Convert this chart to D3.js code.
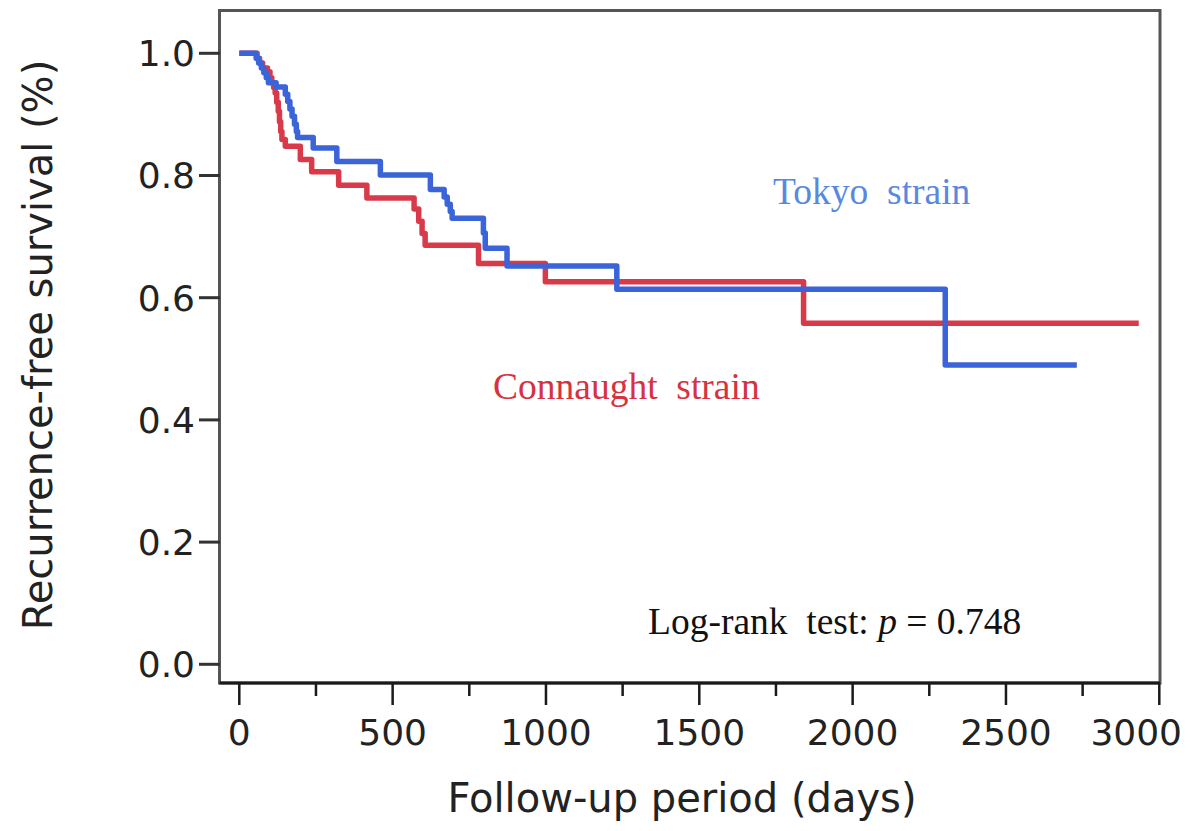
<!doctype html>
<html>
<head>
<meta charset="UTF-8">
<script src="https://d3js.org/d3.v7.min.js"></script>
<style>
  body { margin: 0; background: #fff; }
  .tick-label { font-family: "DejaVu Sans", Verdana, sans-serif; font-size: 36px; fill: #222; }
  .axis-title { font-family: "DejaVu Sans", Verdana, sans-serif; font-size: 40px; fill: #222; }
  .note { font-family: "Liberation Serif", "Times New Roman", serif; }
</style>
</head>
<body>
<svg id="chart" width="1197" height="831"></svg>
<script>
// Tokyo strain (blue) - step times (days) and survival after each step
var tokyoDays = [0, 55, 63, 72, 80, 88, 95, 120, 150, 158, 165, 172, 180, 186, 190, 241, 318, 460, 623, 668, 678, 688, 694, 796, 802, 873, 1231, 2302, 2731];
var tokyoSurv = [1.0, 0.992, 0.984, 0.976, 0.968, 0.96, 0.952, 0.945, 0.933, 0.921, 0.909, 0.897, 0.884, 0.872, 0.862, 0.845, 0.823, 0.801, 0.777, 0.765, 0.753, 0.741, 0.730, 0.706, 0.681, 0.652, 0.614, 0.490, 0.490];

// Connaught strain (red)
var connDays = [0, 58, 66, 76, 92, 100, 106, 112, 117, 122, 127, 131, 135, 139, 150, 199, 236, 324, 416, 570, 585, 596, 606, 780, 998, 1840, 2933];
var connSurv = [1.0, 0.992, 0.984, 0.976, 0.97, 0.96, 0.952, 0.944, 0.935, 0.92, 0.905, 0.888, 0.872, 0.859, 0.848, 0.826, 0.806, 0.784, 0.763, 0.745, 0.725, 0.705, 0.686, 0.656, 0.626, 0.558, 0.558];

var xMajor = [0, 500, 1000, 1500, 2000, 2500, 3000];
var xMinor = [250, 750, 1250, 1750, 2250, 2750];
var yTicks = [0, 0.2, 0.4, 0.6, 0.8, 1.0];

var svg = d3.select("#chart");

var x = d3.scaleLinear().domain([0, 3000]).range([239.3, 1159.3]);
var y = d3.scaleLinear().domain([0, 1]).range([664.3, 53.3]);

// frame
svg.append("rect")
    .attr("x", 219.5).attr("y", 10.5)
    .attr("width", 1160 - 219.5).attr("height", 683 - 10.5)
    .attr("fill", "none")
    .attr("stroke", "#555")
    .attr("stroke-width", 3);

// bottom axis line
svg.append("line")
    .attr("x1", 219.5).attr("x2", 1160)
    .attr("y1", 683).attr("y2", 683)
    .attr("stroke", "#1a1a1a").attr("stroke-width", 3);

// x ticks
svg.selectAll(".xmaj").data(xMajor).enter().append("line")
    .attr("x1", d => x(d)).attr("x2", d => x(d))
    .attr("y1", 683).attr("y2", 705)
    .attr("stroke", "#1a1a1a").attr("stroke-width", 2.5);
svg.selectAll(".xmin").data(xMinor).enter().append("line")
    .attr("x1", d => x(d)).attr("x2", d => x(d))
    .attr("y1", 683).attr("y2", 696)
    .attr("stroke", "#1a1a1a").attr("stroke-width", 2.5);
svg.selectAll(".xlab").data(xMajor).enter().append("text")
    .attr("class", "tick-label")
    .attr("x", d => d === 3000 ? 1182 : x(d)).attr("y", 745)
    .attr("text-anchor", d => d === 3000 ? "end" : "middle")
    .text(d => d);

// y ticks
svg.selectAll(".ytk").data(yTicks).enter().append("line")
    .attr("x1", 199).attr("x2", 220)
    .attr("y1", d => y(d)).attr("y2", d => y(d))
    .attr("stroke", "#333").attr("stroke-width", 3);
svg.selectAll(".ylab").data(yTicks).enter().append("text")
    .attr("class", "tick-label")
    .attr("x", 195).attr("y", d => y(d))
    .attr("dy", "0.36em")
    .attr("text-anchor", "end")
    .text(d => d.toFixed(1));

// axis titles
svg.append("text")
    .attr("class", "axis-title")
    .attr("x", 682).attr("y", 812)
    .attr("text-anchor", "middle")
    .text("Follow-up period (days)");
svg.append("text")
    .attr("class", "axis-title")
    .attr("transform", "translate(52,345) rotate(-90)")
    .attr("text-anchor", "middle")
    .text("Recurrence-free survival (%)");

// curves
var line = d3.line()
    .x(d => x(d[0]))
    .y(d => y(d[1]))
    .curve(d3.curveStepAfter);

svg.append("path")
    .datum(d3.zip(connDays, connSurv))
    .attr("d", line)
    .attr("fill", "none")
    .attr("stroke", "#d83a4a")
    .attr("stroke-width", 5.5)
    .attr("stroke-linejoin", "round");

svg.append("path")
    .datum(d3.zip(tokyoDays, tokyoSurv))
    .attr("d", line)
    .attr("fill", "none")
    .attr("stroke", "#3a64d8")
    .attr("stroke-width", 5.5)
    .attr("stroke-linejoin", "round");

// labels
svg.append("text")
    .attr("class", "note")
    .attr("x", 773).attr("y", 204)
    .attr("font-size", 37.5)
    .attr("fill", "#5a88e0")
    .attr("xml:space", "preserve")
    .text("Tokyo  strain");

svg.append("text")
    .attr("class", "note")
    .attr("x", 493).attr("y", 399)
    .attr("font-size", 37.5)
    .attr("fill", "#d6323f")
    .attr("xml:space", "preserve")
    .text("Connaught  strain");

var note = svg.append("text")
    .attr("class", "note")
    .attr("x", 648).attr("y", 634)
    .attr("font-size", 37.5)
    .attr("fill", "#111")
    .attr("xml:space", "preserve");
note.append("tspan").text("Log-rank  test: ");
note.append("tspan").attr("font-style", "italic").text("p");
note.append("tspan").text(" = 0.748");
</script>
</body>
</html>
